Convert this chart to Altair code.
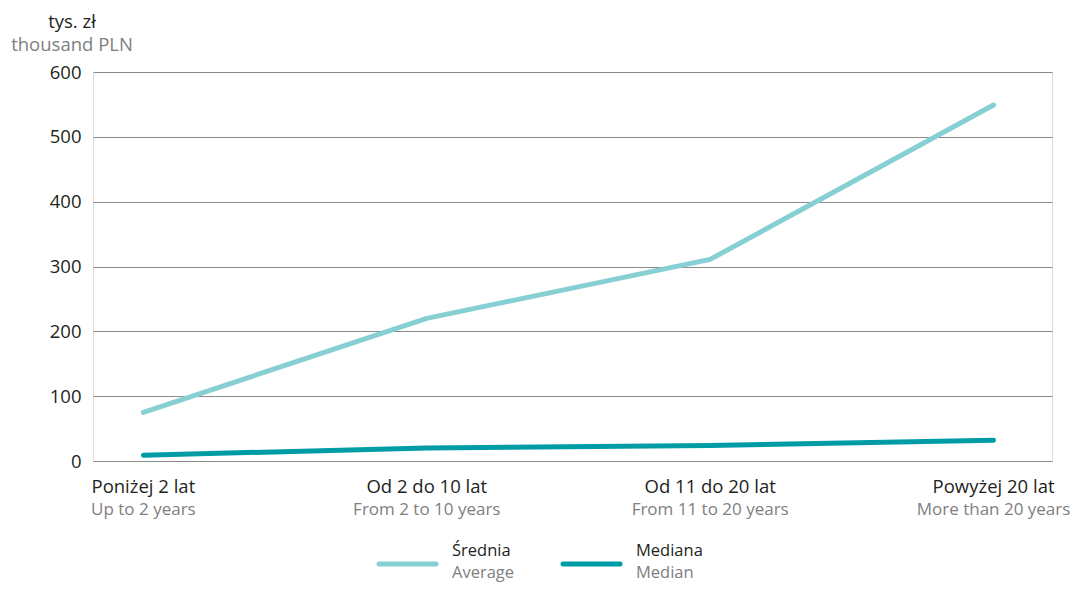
import altair as alt
import pandas as pd

categories_pl = ["Poniżej 2 lat", "Od 2 do 10 lat", "Od 11 do 20 lat", "Powyżej 20 lat"]
categories_en = ["Up to 2 years", "From 2 to 10 years", "From 11 to 20 years", "More than 20 years"]
average = [75, 220, 311, 549]
median = [9, 20, 24, 32]
series_pl = ["Średnia", "Mediana"]
series_en = ["Average", "Median"]
colors = ["#86CFD3", "#009CA6"]

W, H = 959, 389
FONT = "Open Sans"
FS = 18.5

rows = []
for c, a, m in zip(categories_pl, average, median):
    rows.append({"cat": c, "series": series_pl[0], "value": a})
    rows.append({"cat": c, "series": series_pl[1], "value": m})
df = pd.DataFrame(rows)
cats = pd.DataFrame({"pl": categories_pl, "en": categories_en})

xscale = alt.Scale(domain=categories_pl, type="point", padding=0.192, align=0.463)
yscale = alt.Scale(domain=[0, 600])

lines = alt.Chart(df).mark_line(strokeWidth=5, strokeCap="round", strokeJoin="round").encode(
    x=alt.X("cat:N", scale=xscale, axis=None),
    y=alt.Y("value:Q", scale=yscale, axis=alt.Axis(
        values=[0, 100, 200, 300, 400, 500, 600], title=None, domain=False, ticks=False,
        labelPadding=12, labelFont=FONT, labelFontSize=FS, labelColor="#231F20",
        gridColor="#8a8a8a", gridWidth=1.2)),
    color=alt.Color("series:N", scale=alt.Scale(domain=series_pl, range=colors), legend=None),
)

lab_pl = alt.Chart(cats).mark_text(font=FONT, fontSize=FS, color="#231F20", baseline="middle").encode(
    x=alt.X("pl:N", scale=xscale, axis=None), y=alt.value(H + 26), text="pl:N")
lab_en = alt.Chart(cats).mark_text(font=FONT, fontSize=17, color="#808080", baseline="middle").encode(
    x=alt.X("pl:N", scale=xscale, axis=None), y=alt.value(H + 49), text="en:N")

title_df = pd.DataFrame({"t1": ["tys. zł"], "t2": ["thousand PLN"]})
t1 = alt.Chart(title_df).mark_text(font=FONT, fontSize=FS, color="#231F20", baseline="middle", align="center").encode(
    x=alt.value(-21), y=alt.value(-50), text="t1:N")
t2 = alt.Chart(title_df).mark_text(font=FONT, fontSize=FS, color="#808080", baseline="middle", align="center").encode(
    x=alt.value(-21), y=alt.value(-27), text="t2:N")

LFS = 16.5
leg_layers = []
leg_x = [286, 470]
for i in range(2):
    d = pd.DataFrame({"pl": [series_pl[i]], "en": [series_en[i]]})
    x0 = leg_x[i]
    leg_layers.append(alt.Chart(d).mark_rule(strokeWidth=5, strokeCap="round", color=colors[i]).encode(
        x=alt.value(x0), x2=alt.value(x0 + 57), y=alt.value(H + 103)))
    leg_layers.append(alt.Chart(d).mark_text(font=FONT, fontSize=LFS, color="#231F20", align="left", baseline="middle").encode(
        x=alt.value(x0 + 73), y=alt.value(H + 90), text="pl:N"))
    leg_layers.append(alt.Chart(d).mark_text(font=FONT, fontSize=LFS, color="#808080", align="left", baseline="middle").encode(
        x=alt.value(x0 + 73), y=alt.value(H + 112), text="en:N"))

chart = alt.layer(lines, lab_pl, lab_en, t1, t2, *leg_layers).properties(
    width=W, height=H, autosize=alt.AutoSizeParams(type="none"),
    padding={"left": 85, "top": 64, "right": 21, "bottom": 122},
).configure_view(strokeWidth=0).configure(background="white")

chart.save("out.html", embed_options={"renderer": "svg", "actions": False})
